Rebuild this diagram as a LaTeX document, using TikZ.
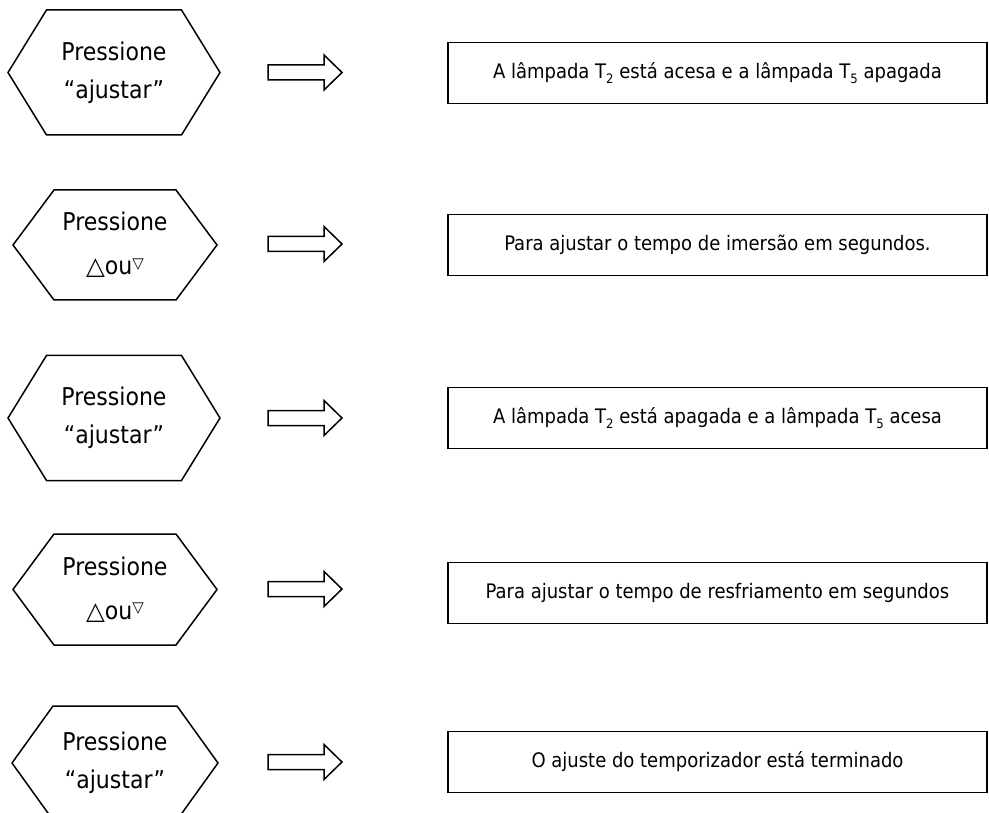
\documentclass[tikz,border=0pt]{standalone}
\usepackage{fontspec}
\setmainfont{DejaVu Sans Condensed}
\newfontfamily\symfont{DejaVu Sans}
\usetikzlibrary{calc}
\def\hexagon[#1](#2)(#3:#4:#5){\draw[#1] ($(#2)+(-#3,0)$) -- ($(#2)+(-#4,-#5)$) -- ($(#2)+(#4,-#5)$) -- ($(#2)+(#3,0)$) -- ($(#2)+(#4,#5)$) -- ($(#2)+(-#4,#5)$) -- cycle;}
\def\blockarrow[#1](#2){\draw[#1] ($(#2)+(-74,-7.5)$) -- ($(#2)+(-18,-7.5)$) -- ($(#2)+(-18,-17.5)$) -- (#2) -- ($(#2)+(-18,17.5)$) -- ($(#2)+(-18,7.5)$) -- ($(#2)+(-74,7.5)$) -- cycle;}
\def\updown{{\symfont △}ou\raisebox{.5ex}{\symfont\fontsize{15}{15}\selectfont ▽}}
\def\lsub#1{\raisebox{-.45ex}{\fontsize{13}{13}\selectfont #1}}

\begin{document}
\begin{tikzpicture}[x=1pt, y=-1pt,
	hexline/.style={line width=1.5pt, line join=miter},
	arrowline/.style={line width=1.5pt, line join=miter},
	keytext/.style={align=center, inner sep=0pt, font=\fontsize{24.5}{38}\selectfont},
	keytextb/.style={align=center, inner sep=0pt, font=\fontsize{24.5}{44}\selectfont},
	msgbox/.style={draw, line width=1.8pt, minimum width=539pt, minimum height=61pt, inner sep=0pt, font=\fontsize{20}{20}\selectfont}]
			%%%%% START %%%%%
			\useasboundingbox (0,0) rectangle (989,813);
			\clip (0,0) rectangle (989,813);
			
			% pressione ajustar
			\coordinate (k1) at (114, 72.5);
			\hexagon[hexline](k1)(106:67.5:62.5);
			\node[keytext] (t1) at (k1) {Pressione\\“ajustar”};
			\coordinate (a1) at (342, 72.5);
			\blockarrow[arrowline](a1);
			\node[msgbox] (m1) at (717.5, 73) {A lâmpada T\lsub{2} está acesa e a lâmpada T\lsub{5} apagada};
			
			% pressione up/down
			\coordinate (k2) at (115, 245);
			\hexagon[hexline](k2)(102:61:55);
			\node[keytextb] (t2) at (k2) {Pressione\\\updown};
			\coordinate (a2) at (342, 244);
			\blockarrow[arrowline](a2);
			\node[msgbox] (m2) at (717.5, 245) {Para ajustar o tempo de imersão em segundos.};
			
			% pressione ajustar
			\coordinate (k3) at (114, 418);
			\hexagon[hexline](k3)(106:67.5:62.5);
			\node[keytext] (t3) at (k3) {Pressione\\“ajustar”};
			\coordinate (a3) at (342, 418);
			\blockarrow[arrowline](a3);
			\node[msgbox] (m3) at (717.5, 418) {A lâmpada T\lsub{2} está apagada e a lâmpada T\lsub{5} acesa};
			
			% pressione up/down
			\coordinate (k4) at (115, 589.5);
			\hexagon[hexline](k4)(102:61:55.5);
			\node[keytextb] (t4) at (k4) {Pressione\\\updown};
			\coordinate (a4) at (342, 589);
			\blockarrow[arrowline](a4);
			\node[msgbox] (m4) at (717.5, 593) {Para ajustar o tempo de resfriamento em segundos};
			
			% pressione ajustar
			\coordinate (k5) at (115, 763);
			\hexagon[hexline](k5)(103:62:57);
			\node[keytext] (t5) at (k5) {Pressione\\“ajustar”};
			\coordinate (a5) at (342, 762);
			\blockarrow[arrowline](a5);
			\node[msgbox] (m5) at (717.5, 762) {O ajuste do temporizador está terminado};
			
			%%%%% END %%%%%
\end{tikzpicture}
\end{document}
